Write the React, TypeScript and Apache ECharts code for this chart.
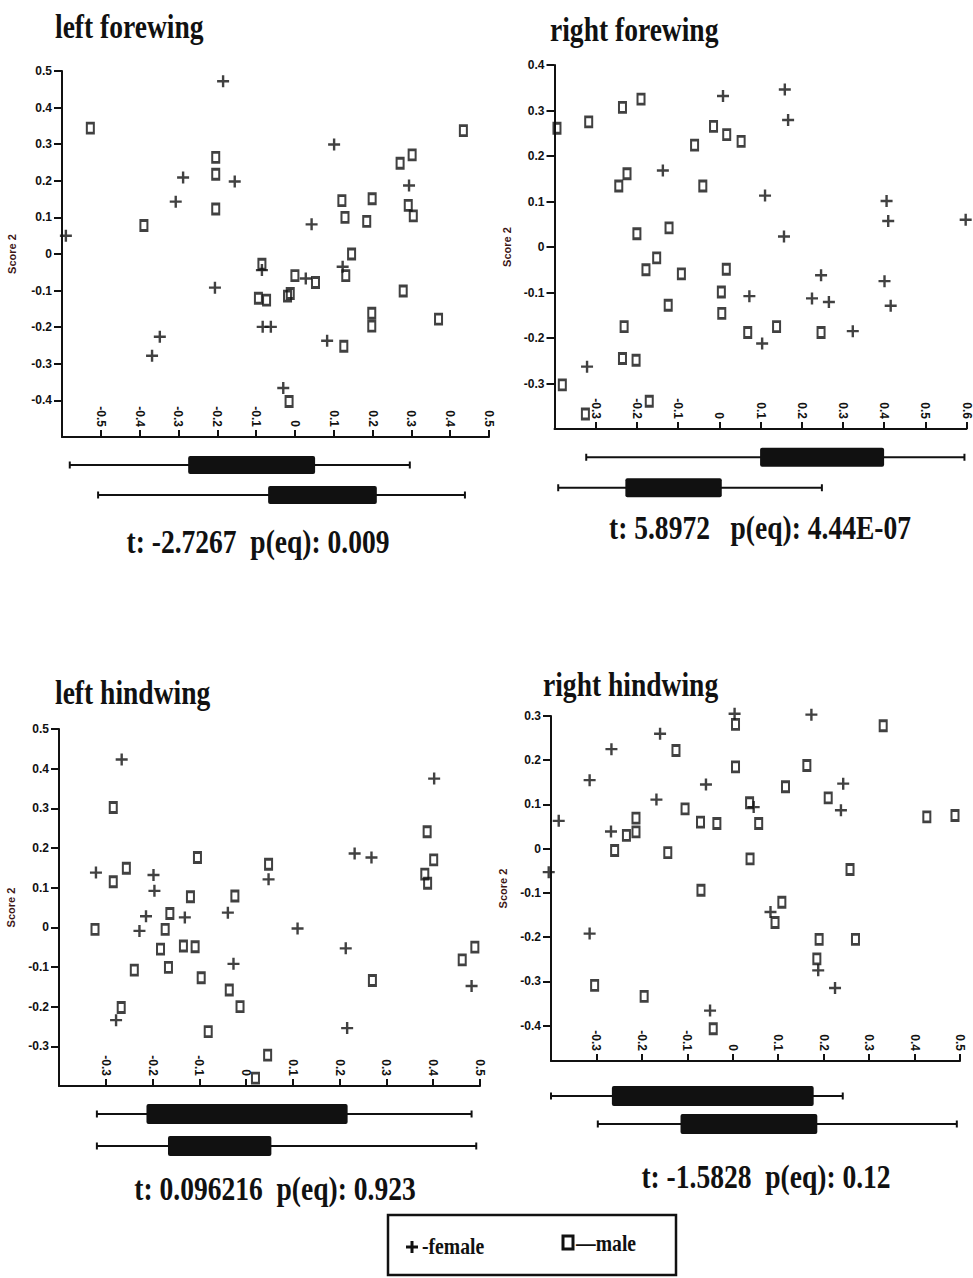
import React, { useEffect, useRef } from "react";
import * as echarts from "echarts";

// ---------- data (Score 1, Score 2) ----------
const lfFemale: number[][] = [
  [-0.185, 0.472], [-0.59, 0.05], [-0.307, 0.143], [-0.288, 0.209], [-0.155, 0.198], [-0.206, -0.092],
  [-0.348, -0.226], [-0.368, -0.278], [0.101, 0.299], [0.294, 0.187], [0.043, 0.081], [0.123, -0.035],
  [-0.085, -0.044], [0.028, -0.067], [-0.083, -0.199], [-0.062, -0.199], [0.083, -0.237], [-0.03, -0.366],
];
const lfMale: number[][] = [
  [-0.527, 0.344], [-0.389, 0.078], [-0.204, 0.264], [-0.204, 0.218], [-0.204, 0.123], [0.434, 0.337],
  [0.271, 0.248], [0.302, 0.271], [0.121, 0.146], [0.199, 0.151], [0.129, 0.1], [0.185, 0.089],
  [0.292, 0.133], [0.305, 0.104], [0.146, 0.0], [0.131, -0.059], [-0.085, -0.028], [0.0, -0.059],
  [0.053, -0.078], [-0.094, -0.121], [-0.073, -0.126], [-0.019, -0.115], [-0.012, -0.108], [0.198, -0.162],
  [0.198, -0.197], [0.279, -0.101], [0.37, -0.178], [0.126, -0.252], [-0.015, -0.403],
];
const rfFemale: number[][] = [
  [0.009, 0.332], [-0.137, 0.168], [-0.321, -0.263], [0.159, 0.346], [0.167, 0.279], [0.111, 0.113],
  [0.157, 0.023], [0.406, 0.101], [0.41, 0.057], [0.598, 0.06], [0.247, -0.062], [0.225, -0.113],
  [0.266, -0.121], [0.401, -0.075], [0.416, -0.129], [0.073, -0.108], [0.104, -0.212], [0.324, -0.185],
];
const rfMale: number[][] = [
  [-0.394, 0.261], [-0.317, 0.275], [-0.235, 0.307], [-0.19, 0.325], [-0.014, 0.265], [0.018, 0.247],
  [0.053, 0.232], [-0.06, 0.224], [-0.244, 0.134], [-0.224, 0.161], [-0.04, 0.134], [-0.2, 0.029],
  [-0.122, 0.042], [-0.178, -0.05], [-0.152, -0.024], [-0.092, -0.059], [0.017, -0.049], [0.005, -0.099],
  [-0.124, -0.128], [0.006, -0.146], [-0.231, -0.175], [-0.235, -0.245], [-0.202, -0.249], [-0.381, -0.303],
  [-0.325, -0.367], [-0.17, -0.339], [0.069, -0.188], [0.139, -0.175], [0.247, -0.188],
];
const lhFemale: number[][] = [
  [-0.266, 0.423], [-0.321, 0.138], [-0.198, 0.132], [-0.196, 0.092], [-0.214, 0.028], [-0.228, -0.009],
  [-0.131, 0.025], [-0.039, 0.037], [-0.027, -0.092], [-0.278, -0.234], [0.402, 0.375], [0.232, 0.186],
  [0.268, 0.176], [0.048, 0.121], [0.11, -0.003], [0.213, -0.053], [0.216, -0.254], [0.482, -0.148],
];
const lhMale: number[][] = [
  [-0.284, 0.302], [-0.284, 0.115], [-0.256, 0.149], [-0.323, -0.005], [-0.163, 0.035], [-0.173, -0.005],
  [-0.183, -0.055], [-0.166, -0.101], [-0.239, -0.108], [-0.104, 0.176], [-0.119, 0.077], [-0.134, -0.047],
  [-0.109, -0.049], [-0.096, -0.127], [-0.081, -0.263], [-0.024, 0.079], [-0.036, -0.158], [-0.013, -0.2],
  [-0.267, -0.202], [0.387, 0.241], [0.401, 0.17], [0.382, 0.134], [0.388, 0.111], [0.048, 0.159],
  [0.27, -0.134], [0.462, -0.082], [0.489, -0.05], [0.046, -0.322], [0.02, -0.38],
];
const rhFemale: number[][] = [
  [-0.383, 0.063], [-0.405, -0.053], [-0.315, 0.155], [-0.267, 0.225], [-0.16, 0.26], [-0.168, 0.111],
  [-0.268, 0.039], [-0.059, 0.145], [-0.315, -0.192], [-0.05, -0.366], [0.004, 0.305], [0.173, 0.303],
  [0.243, 0.147], [0.238, 0.087], [0.046, 0.094], [0.083, -0.143], [0.188, -0.275], [0.225, -0.315],
];
const rhMale: number[][] = [
  [-0.125, 0.222], [-0.26, -0.004], [-0.234, 0.03], [-0.213, 0.038], [-0.213, 0.069], [-0.143, -0.009],
  [-0.105, 0.09], [-0.071, 0.06], [-0.035, 0.057], [-0.07, -0.094], [-0.304, -0.309], [-0.195, -0.334],
  [-0.043, -0.407], [0.006, 0.281], [0.006, 0.185], [0.331, 0.278], [0.163, 0.188], [0.116, 0.14],
  [0.21, 0.115], [0.037, 0.104], [0.057, 0.057], [0.427, 0.072], [0.489, 0.075], [0.038, -0.023],
  [0.258, -0.047], [0.108, -0.121], [0.093, -0.167], [0.19, -0.205], [0.27, -0.205], [0.185, -0.249],
];

// box summaries of Score 1: [min, q1, q3, max]
const lfBoxes: number[][] = [[-0.58, -0.275, 0.052, 0.296], [-0.507, -0.069, 0.211, 0.438]];
const rfBoxes: number[][] = [[-0.323, 0.099, 0.4, 0.595], [-0.391, -0.228, 0.006, 0.249]];
const lhBoxes: number[][] = [[-0.319, -0.213, 0.217, 0.482], [-0.319, -0.167, 0.054, 0.492]];
const rhBoxes: number[][] = [[-0.4, -0.266, 0.178, 0.242], [-0.297, -0.115, 0.186, 0.493]];

// tick labels
const lfXTicks = [-0.5, -0.4, -0.3, -0.2, -0.1, 0, 0.1, 0.2, 0.3, 0.4, 0.5];
const lfYTicks = [-0.4, -0.3, -0.2, -0.1, 0, 0.1, 0.2, 0.3, 0.4, 0.5];
const rfXTicks = [-0.3, -0.2, -0.1, 0, 0.1, 0.2, 0.3, 0.4, 0.5, 0.6];
const rfYTicks = [-0.3, -0.2, -0.1, 0, 0.1, 0.2, 0.3, 0.4];
const lhXTicks = [-0.3, -0.2, -0.1, 0, 0.1, 0.2, 0.3, 0.4, 0.5];
const lhYTicks = [-0.3, -0.2, -0.1, 0, 0.1, 0.2, 0.3, 0.4, 0.5];
const rhXTicks = [-0.3, -0.2, -0.1, 0, 0.1, 0.2, 0.3, 0.4, 0.5];
const rhYTicks = [-0.4, -0.3, -0.2, -0.1, 0, 0.1, 0.2, 0.3];

const titles = ["left forewing", "right forewing", "left hindwing", "right hindwing"];
const stats = ["t: -2.7267  p(eq): 0.009", "t: 5.8972   p(eq): 4.44E-07", "t: 0.096216  p(eq): 0.923", "t: -1.5828  p(eq): 0.12"];
const legendLabels = ["-female", "\u2014male"];

// ---------- layout ----------
const panels = [
  { title: titles[0], stat: stats[0], female: lfFemale, male: lfMale, boxes: lfBoxes, xTicks: lfXTicks, yTicks: lfYTicks,
    xMin: -0.6, xMax: 0.5, yMin: -0.5, yMax: 0.5, grid: { left: 62, top: 71, width: 427, height: 366 },
    boxGrid: { top: 450, height: 60 }, boxH: 18, titlePos: [55, 26], statPos: [258, 541], nameGap: 45 },
  { title: titles[1], stat: stats[1], female: rfFemale, male: rfMale, boxes: rfBoxes, xTicks: rfXTicks, yTicks: rfYTicks,
    xMin: -0.4, xMax: 0.6, yMin: -0.4, yMax: 0.4, grid: { left: 554.5, top: 65, width: 412, height: 364 },
    boxGrid: { top: 442, height: 61 }, boxH: 19, titlePos: [550, 29], statPos: [760, 527], nameGap: 42 },
  { title: titles[2], stat: stats[2], female: lhFemale, male: lhMale, boxes: lhBoxes, xTicks: lhXTicks, yTicks: lhYTicks,
    xMin: -0.4, xMax: 0.5, yMin: -0.4, yMax: 0.5, grid: { left: 59, top: 729, width: 421, height: 357 },
    boxGrid: { top: 1098, height: 64 }, boxH: 20, titlePos: [55, 692], statPos: [275, 1188], nameGap: 43 },
  { title: titles[3], stat: stats[3], female: rhFemale, male: rhMale, boxes: rhBoxes, xTicks: rhXTicks, yTicks: rhYTicks,
    xMin: -0.4, xMax: 0.5, yMin: -0.48, yMax: 0.3, grid: { left: 551, top: 716, width: 409, height: 345 },
    boxGrid: { top: 1082, height: 56 }, boxH: 20, titlePos: [543, 684], statPos: [766, 1176], nameGap: 43 },
];

const INK = "#111";
const PLUS = "path://M4,0H6V4H10V6H6V10H4V6H0V4H4Z";
const SERIF = '"Liberation Serif", "Times New Roman", serif';
const SANS = '"Liberation Sans", Arial, sans-serif';
const fmt = (v: number) => String(Math.round(v * 10) / 10);

function buildOption() {
  const grid: any[] = [];
  const xAxis: any[] = [];
  const yAxis: any[] = [];
  const series: any[] = [];
  const graphic: any[] = [];

  panels.forEach((p, i) => {
    const gi = i * 2;
    grid.push({ ...p.grid, containLabel: false, outerBoundsMode: "none" });
    grid.push({ left: p.grid.left, width: p.grid.width, top: p.boxGrid.top, height: p.boxGrid.height, containLabel: false, outerBoundsMode: "none" });

    xAxis.push({
      gridIndex: gi, type: "value", min: p.xMin, max: p.xMax,
      axisLine: { show: true, onZero: false, lineStyle: { color: INK, width: 2 } },
      axisTick: { show: true, inside: true, length: 7, customValues: p.xTicks, lineStyle: { color: INK, width: 2 } },
      axisLabel: { inside: true, rotate: -90, margin: 10, customValues: p.xTicks, formatter: fmt,
        fontSize: 12, fontWeight: "bold", fontFamily: SANS, color: INK },
      splitLine: { show: false },
    });
    yAxis.push({
      gridIndex: gi, type: "value", min: p.yMin, max: p.yMax,
      name: "Score 2", nameLocation: "middle", nameGap: p.nameGap,
      nameTextStyle: { fontSize: 11, fontWeight: "bold", fontFamily: SANS, color: "#3d1616" },
      axisLine: { show: true, onZero: false, lineStyle: { color: INK, width: 2 } },
      axisTick: { show: true, inside: false, length: 8, customValues: p.yTicks, lineStyle: { color: INK, width: 2 } },
      axisLabel: { margin: 10, customValues: p.yTicks, formatter: fmt,
        fontSize: 12, fontWeight: "bold", fontFamily: SANS, color: INK },
      splitLine: { show: false },
    });
    xAxis.push({ gridIndex: gi + 1, type: "value", min: p.xMin, max: p.xMax, show: false });
    yAxis.push({ gridIndex: gi + 1, type: "value", min: 0, max: 2, inverse: true, show: false });

    series.push({
      name: "female", type: "scatter", xAxisIndex: gi, yAxisIndex: gi, data: p.female,
      symbol: PLUS, symbolSize: 12, itemStyle: { color: INK }, clip: false, silent: true, z: 3,
    });
    series.push({
      name: "male", type: "scatter", xAxisIndex: gi, yAxisIndex: gi, data: p.male,
      symbol: "rect", symbolSize: [7, 10],
      itemStyle: { color: "rgba(0,0,0,0)", borderColor: INK, borderWidth: 2.4 }, clip: false, silent: true, z: 2,
    });
    const bh = p.boxH;
    series.push({
      type: "custom", xAxisIndex: gi + 1, yAxisIndex: gi + 1, silent: true, clip: false,
      data: p.boxes.map((b, k) => [...b, k + 0.5]),
      renderItem: (_params: any, api: any) => {
        const row = api.value(4);
        const a = api.coord([api.value(0), row]);
        const q1 = api.coord([api.value(1), row]);
        const q3 = api.coord([api.value(2), row]);
        const b = api.coord([api.value(3), row]);
        const st = { stroke: INK, lineWidth: 2 };
        return {
          type: "group",
          children: [
            { type: "line", shape: { x1: a[0], y1: a[1], x2: b[0], y2: b[1] }, style: st },
            { type: "line", shape: { x1: a[0], y1: a[1] - 3.5, x2: a[0], y2: a[1] + 3.5 }, style: st },
            { type: "line", shape: { x1: b[0], y1: b[1] - 3.5, x2: b[0], y2: b[1] + 3.5 }, style: st },
            { type: "rect", shape: { x: q1[0], y: q1[1] - bh / 2, width: q3[0] - q1[0], height: bh, r: 2 }, style: { fill: INK } },
          ],
        };
      },
    });

    graphic.push({
      type: "text", x: p.titlePos[0], y: p.titlePos[1], scaleX: 0.81,
      style: { text: p.title, fontFamily: SERIF, fontWeight: "bold", fontSize: 34, fill: INK, align: "left", verticalAlign: "middle" },
    });
    graphic.push({
      type: "text", x: p.statPos[0], y: p.statPos[1], scaleX: 0.81,
      style: { text: p.stat, fontFamily: SERIF, fontWeight: "bold", fontSize: 34, fill: INK, align: "center", verticalAlign: "middle" },
    });
  });

  // legend box
  graphic.push({ type: "rect", shape: { x: 388, y: 1215, width: 288, height: 60 }, style: { fill: "none", stroke: INK, lineWidth: 2.5 } });
  graphic.push({ type: "rect", shape: { x: 406, y: 1245.5, width: 12, height: 3 }, style: { fill: INK } });
  graphic.push({ type: "rect", shape: { x: 410.5, y: 1241, width: 3, height: 12 }, style: { fill: INK } });
  graphic.push({
    type: "text", x: 422, y: 1246, scaleX: 0.82,
    style: { text: legendLabels[0], fontFamily: SERIF, fontWeight: "bold", fontSize: 24, fill: INK, align: "left", verticalAlign: "middle" },
  });
  graphic.push({ type: "rect", shape: { x: 563, y: 1236, width: 10, height: 13 }, style: { fill: "none", stroke: INK, lineWidth: 3 } });
  graphic.push({
    type: "text", x: 576, y: 1243, scaleX: 0.82,
    style: { text: legendLabels[1], fontFamily: SERIF, fontWeight: "bold", fontSize: 24, fill: INK, align: "left", verticalAlign: "middle" },
  });

  return { animation: false, backgroundColor: "#ffffff", grid, xAxis, yAxis, series, graphic };
}

export default function App() {
  const ref = useRef<HTMLDivElement>(null);
  useEffect(() => {
    if (!ref.current) return;
    const chart = echarts.init(ref.current, undefined, { renderer: "svg" });
    chart.setOption(buildOption() as any);
    return () => chart.dispose();
  }, []);
  return <div ref={ref} style={{ position: "absolute", left: 0, top: 0, width: 973, height: 1278, background: "#fff" }} />;
}
